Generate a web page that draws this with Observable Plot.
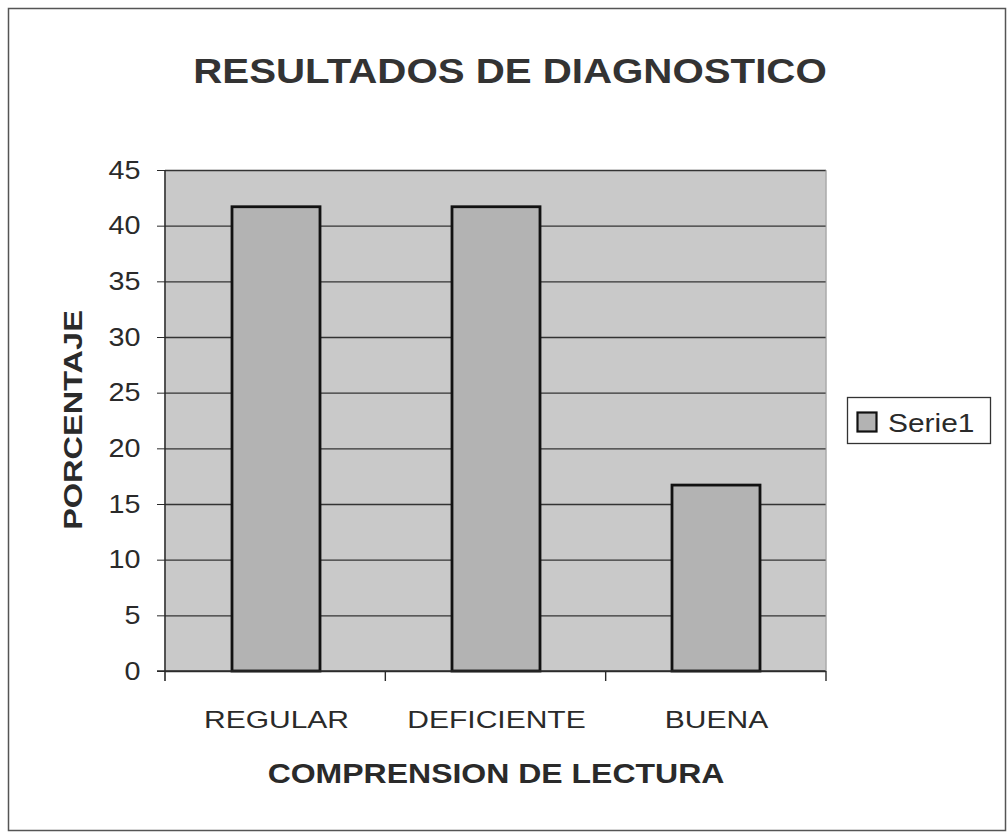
<!DOCTYPE html>
<html><head><meta charset="utf-8">
<script src="https://cdn.jsdelivr.net/npm/d3@7"></script>
<script src="https://cdn.jsdelivr.net/npm/@observablehq/plot@0.6"></script>
<style>body{margin:0;background:#fff;font-family:"Liberation Sans",Arial,sans-serif}</style>
</head><body><div id="chart"></div>
<script>
const categories = ["REGULAR", "DEFICIENTE", "BUENA"];
const values = [41.7, 41.7, 16.7];
const yTicks = [0, 5, 10, 15, 20, 25, 30, 35, 40, 45];
const title = "RESULTADOS DE DIAGNOSTICO";
const xTitle = "COMPRENSION DE LECTURA";
const yTitle = "PORCENTAJE";
const seriesName = "Serie1";

const data = categories.map((c, i) => ({cat: c, val: values[i]}));
const W = 1008, H = 833;
const mL = 165, mR = 182, mT = 170, mB = 162;
const ink = "#2a2a2a";

const plot = Plot.plot({
  width: W, height: H,
  marginLeft: mL, marginRight: mR, marginTop: mT, marginBottom: mB,
  style: {fontFamily: "'Liberation Sans', Arial, sans-serif", background: "transparent", overflow: "visible"},
  x: {domain: categories, paddingInner: 0.6, paddingOuter: 0.3, label: null},
  y: {domain: [0, 45], label: null},
  marks: [
    Plot.frame({fill: "#c9c9c9", stroke: "none"}),
    Plot.ruleY(yTicks, {stroke: "#333", strokeWidth: 1.3}),
    Plot.barY(data, {x: "cat", y: "val", fill: "#b3b3b3", stroke: "#111", strokeWidth: 2.8}),
    Plot.axisY({ticks: yTicks, tickSize: 8, tickPadding: 17, fontSize: 25, fill: ink, stroke: ink}),
    Plot.axisX({tickSize: 0, tickPadding: 39, fontSize: 24, fill: ink})
  ]
});

const svg = d3.select(plot);
function stretch(node, s) {
  const tr = node.getAttribute("transform") || "";
  node.setAttribute("transform", `${tr} scale(${s},1)`);
}
svg.selectAll('g[aria-label="y-axis tick label"] text').each(function() { stretch(this, 1.15); });
svg.selectAll('g[aria-label="x-axis tick label"] text').each(function() { stretch(this, 1.25); });

// axis lines
svg.append("line").attr("x1", mL).attr("x2", mL).attr("y1", mT).attr("y2", H - mB + 10).attr("stroke", ink).attr("stroke-width", 1.6);
svg.append("line").attr("x1", mL - 8).attr("x2", W - mR).attr("y1", H - mB).attr("y2", H - mB).attr("stroke", ink).attr("stroke-width", 1.6);
svg.append("line").attr("x1", W - mR).attr("x2", W - mR).attr("y1", mT).attr("y2", H - mB).attr("stroke", "#9a9a9a").attr("stroke-width", 1);
// x boundary ticks
const step = (W - mL - mR) / categories.length;
for (let i = 1; i <= categories.length; i++) {
  svg.append("line").attr("x1", mL + i * step).attr("x2", mL + i * step).attr("y1", H - mB).attr("y2", H - mB + 10).attr("stroke", ink).attr("stroke-width", 1.4);
}
// outer frame
svg.insert("rect", ":first-child").attr("x", 8.5).attr("y", 8.5).attr("width", W - 11).attr("height", H - 11).attr("fill", "#fff").attr("stroke", "#555").attr("stroke-width", 1.5);
// titles
svg.append("text").attr("transform", "translate(510,83) scale(1.15,1)").attr("text-anchor", "middle").attr("font-size", 35).attr("font-weight", "bold").attr("fill", "#333").text(title);
svg.append("text").attr("transform", "translate(496,783) scale(1.185,1)").attr("text-anchor", "middle").attr("font-size", 27).attr("font-weight", "bold").attr("fill", ink).text(xTitle);
svg.append("text").attr("transform", `translate(82,420) rotate(-90) scale(1.3,1)`).attr("text-anchor", "middle").attr("font-size", 25).attr("font-weight", "bold").attr("fill", ink).text(yTitle);
// legend
const lg = svg.append("g").attr("transform", "translate(847,397)");
lg.append("rect").attr("x", 0.5).attr("y", 0.5).attr("width", 143).attr("height", 46).attr("fill", "#fff").attr("stroke", "#333").attr("stroke-width", 1.3);
lg.append("rect").attr("x", 10.5).attr("y", 15.5).attr("width", 19).attr("height", 19).attr("fill", "#b3b3b3").attr("stroke", "#111").attr("stroke-width", 2.2);
lg.append("text").attr("transform", "translate(41,35) scale(1.15,1)").attr("text-anchor", "start").attr("font-size", 26).attr("fill", ink).text(seriesName);

document.getElementById("chart").appendChild(plot);
</script></body></html>
